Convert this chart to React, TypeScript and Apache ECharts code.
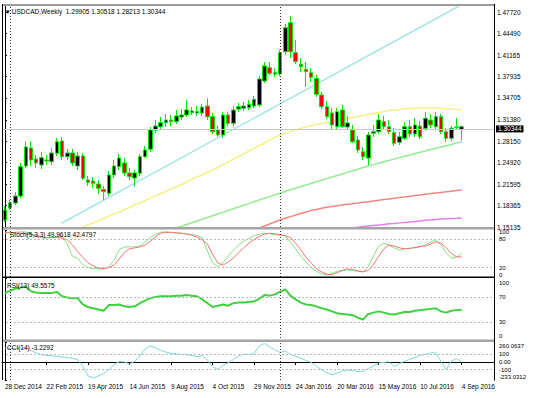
import React, { useEffect, useRef } from 'react';
import * as echarts from 'echarts';

// ---------- data ----------
const X_TICK_INDEX = [0, 8, 16, 24, 32, 40, 48, 56, 64, 72, 80, 88];
const X_TICK_LABELS = ['28 Dec 2014', '22 Feb 2015', '19 Apr 2015', '14 Jun 2015', '9 Aug 2015', '4 Oct 2015',
  '29 Nov 2015', '24 Jan 2016', '20 Mar 2016', '15 May 2016', '10 Jul 2016', '4 Sep 2016'];
const PRICE_TICKS = [1.15135, 1.18365, 1.21595, 1.2492, 1.2815, 1.3138, 1.34705, 1.37935, 1.41165, 1.4449, 1.4772];
const PRICE_MIN = 1.15135;
const PRICE_MAX = 1.48781;
const LAST_PRICE = 1.30344;
const SEPARATOR_INDEX = [1, 53];

const OPEN = [1.1620, 1.1802, 1.1877, 1.1983, 1.2438, 1.2711, 1.2544, 1.2453, 1.2529, 1.2503,
  1.2631, 1.2817, 1.2579, 1.2635, 1.2438, 1.2590, 1.2226, 1.2211, 1.2165, 1.2085,
  1.2024, 1.2302, 1.2428, 1.2484, 1.2332, 1.2256, 1.2328, 1.2579, 1.2691, 1.2984,
  1.3034, 1.3094, 1.3135, 1.3110, 1.3181, 1.3211, 1.3249, 1.3241, 1.3241, 1.3347,
  1.3185, 1.2984, 1.2908, 1.3211, 1.3085, 1.3302, 1.3313, 1.3322, 1.3347, 1.3363,
  1.3726, 1.3928, 1.3832, 1.3832, 1.4170, 1.4610, 1.4155, 1.3979, 1.3904, 1.3852,
  1.3767, 1.3514, 1.3337, 1.3241, 1.3034, 1.3287, 1.3029, 1.2984, 1.2832, 1.2655,
  1.2559, 1.2934, 1.2958, 1.3110, 1.3034, 1.2943, 1.2797, 1.2858, 1.3034, 1.2923,
  1.3044, 1.3009, 1.3135, 1.3034, 1.3185, 1.2958, 1.2858, 1.3025, 1.29905];
const HIGH = [1.1832, 1.1923, 1.2044, 1.2484, 1.2806, 1.2810, 1.2605, 1.2651, 1.2605, 1.2711,
  1.2862, 1.2878, 1.2696, 1.2696, 1.2651, 1.2635, 1.2287, 1.2272, 1.2226, 1.2135,
  1.2362, 1.2529, 1.2620, 1.2559, 1.2408, 1.2378, 1.2620, 1.2741, 1.3029, 1.3135,
  1.3181, 1.3226, 1.3211, 1.3287, 1.3302, 1.3438, 1.3332, 1.3347, 1.3378, 1.3464,
  1.3241, 1.3044, 1.3257, 1.3257, 1.3347, 1.3393, 1.3408, 1.3438, 1.3499, 1.3802,
  1.4014, 1.4014, 1.3923, 1.4196, 1.4590, 1.4712, 1.4348, 1.4075, 1.4014, 1.3923,
  1.3817, 1.3560, 1.3423, 1.3317, 1.3317, 1.3363, 1.3196, 1.3060, 1.2893, 1.2726,
  1.2953, 1.3060, 1.3226, 1.3196, 1.3135, 1.3014, 1.2953, 1.3105, 1.3135, 1.3166,
  1.3120, 1.3257, 1.3226, 1.3257, 1.3226, 1.3014, 1.3044, 1.3166, 1.30518];
const LOW = [1.1589, 1.1771, 1.1847, 1.1953, 1.2408, 1.2438, 1.2408, 1.2393, 1.2453, 1.2453,
  1.2590, 1.2529, 1.2529, 1.2438, 1.2378, 1.2226, 1.2135, 1.2105, 1.2014, 1.1923,
  1.1983, 1.2256, 1.2378, 1.2287, 1.2226, 1.2124, 1.2287, 1.2559, 1.2651, 1.2938,
  1.2984, 1.3029, 1.3044, 1.3075, 1.3135, 1.3181, 1.3211, 1.3196, 1.3196, 1.3135,
  1.2923, 1.2882, 1.2862, 1.3044, 1.3044, 1.3257, 1.3272, 1.3287, 1.3317, 1.3332,
  1.3696, 1.3817, 1.3787, 1.3802, 1.4120, 1.4075, 1.3984, 1.3863, 1.3640, 1.3711,
  1.3484, 1.3302, 1.3150, 1.2984, 1.2999, 1.3014, 1.2984, 1.2787, 1.2635, 1.2529,
  1.2453, 1.2878, 1.2923, 1.2984, 1.2923, 1.2741, 1.2756, 1.2832, 1.2878, 1.2878,
  1.2847, 1.2969, 1.3014, 1.2999, 1.2923, 1.2802, 1.2817, 1.2984, 1.28213];
const CLOSE = [1.1771, 1.1877, 1.1983, 1.2428, 1.2726, 1.2529, 1.2484, 1.2564, 1.2514, 1.2635,
  1.2806, 1.2579, 1.2635, 1.2484, 1.2590, 1.2252, 1.2191, 1.2176, 1.2100, 1.2049,
  1.2302, 1.2438, 1.2559, 1.2332, 1.2276, 1.2332, 1.2579, 1.2681, 1.2984, 1.3044,
  1.3094, 1.3135, 1.3110, 1.3196, 1.3211, 1.3287, 1.3272, 1.3264, 1.3332, 1.3185,
  1.2958, 1.2908, 1.3211, 1.3085, 1.3287, 1.3337, 1.3347, 1.3373, 1.3449, 1.3757,
  1.3954, 1.3843, 1.3852, 1.4155, 1.4534, 1.4170, 1.4019, 1.3943, 1.3867, 1.3782,
  1.3525, 1.3337, 1.3185, 1.3060, 1.3261, 1.3034, 1.3090, 1.2806, 1.2681, 1.2579,
  1.2908, 1.2958, 1.3135, 1.3034, 1.2958, 1.2782, 1.2882, 1.3034, 1.2923, 1.3060,
  1.2882, 1.3161, 1.3060, 1.3185, 1.2958, 1.2858, 1.3009, 1.3030, 1.30344];

const MA_YELLOW_START = 14;
const MA_YELLOW = [1.1483, 1.1514, 1.1544, 1.1574, 1.1605, 1.1642, 1.1680, 1.1711, 1.1741, 1.1779,
  1.1809, 1.1847, 1.1877, 1.1915, 1.1953, 1.1983, 1.2021, 1.2052, 1.2090, 1.2120,
  1.2158, 1.2196, 1.2234, 1.2272, 1.2302, 1.2340, 1.2378, 1.2415, 1.2461, 1.2499,
  1.2544, 1.2582, 1.2620, 1.2665, 1.2703, 1.2749, 1.2787, 1.2832, 1.2870, 1.2908,
  1.2938, 1.2961, 1.2984, 1.3006, 1.3029, 1.3052, 1.3067, 1.3082, 1.3097, 1.3113,
  1.3128, 1.3143, 1.3158, 1.3173, 1.3188, 1.3204, 1.3219, 1.3234, 1.3249, 1.3264,
  1.3279, 1.3287, 1.3294, 1.3302, 1.3310, 1.3313, 1.3317, 1.3317, 1.3317, 1.3317,
  1.3313, 1.3307, 1.3299, 1.3293, 1.3287];
const MA_GREEN_START = 33;
const MA_GREEN = [1.1498, 1.1524, 1.1552, 1.1577, 1.1605, 1.1630, 1.1658, 1.1683, 1.1711, 1.1736,
  1.1764, 1.1789, 1.1817, 1.1843, 1.1868, 1.1895, 1.1923, 1.1949, 1.1974, 1.2002,
  1.2026, 1.2052, 1.2077, 1.2102, 1.2126, 1.2150, 1.2174, 1.2199, 1.2223, 1.2247,
  1.2271, 1.2294, 1.2317, 1.2341, 1.2365, 1.2390, 1.2415, 1.2438, 1.2459, 1.2481,
  1.2502, 1.2523, 1.2544, 1.2565, 1.2587, 1.2605, 1.2626, 1.2646, 1.2665, 1.2687,
  1.2706, 1.2726, 1.2746, 1.2765, 1.2787, 1.2806];
const MA_RED_START = 49;
const MA_RED = [1.1498, 1.1529, 1.1559, 1.1589, 1.1620, 1.1645, 1.1671, 1.1695, 1.1718, 1.1741,
  1.1762, 1.1780, 1.1797, 1.1812, 1.1824, 1.1836, 1.1847, 1.1858, 1.1867, 1.1877,
  1.1888, 1.1897, 1.1908, 1.1918, 1.1929, 1.1938, 1.1949, 1.1959, 1.1968, 1.1979,
  1.1990, 1.1999, 1.2010, 1.2020, 1.2029, 1.2038, 1.2047, 1.2056, 1.2065, 1.2074];
const MA_MAGENTA_START = 66;
const MA_MAGENTA = [1.1491, 1.1501, 1.1510, 1.1520, 1.1529, 1.1538, 1.1545, 1.1553, 1.1561, 1.1568,
  1.1576, 1.1583, 1.1591, 1.1598, 1.1606, 1.1614, 1.1621, 1.1627, 1.1633, 1.1638,
  1.1642, 1.1645, 1.1650];
const TRENDLINE = [[10.9, 1.1570], [87.5, 1.4863]];

const STOCH_K = [93, 94, 95, 96, 96, 92, 89, 85, 83, 84, 87, 88, 70, 44, 40, 26, 20, 18, 17, 17,
  22, 35, 58, 64, 64, 64, 66, 75, 84, 91, 95, 96, 95, 94, 93, 92, 90, 88, 84, 55,
  30, 22, 30, 45, 57, 68, 76, 82, 88, 91, 93, 92, 90, 89, 88, 74, 60, 44, 32, 20,
  12, 7, 4, 8, 12, 14, 15, 14, 12, 11, 22, 45, 66, 72, 68, 62, 57, 60, 61, 62,
  64, 68, 74, 79, 68, 52, 40, 42, 49.9618];
const STOCH_D = [95, 95, 94, 93, 92, 90, 87, 85, 84, 84, 84, 83, 79, 68, 54, 42, 30, 24, 19, 18,
  20, 25, 38, 52, 60, 62, 64, 68, 76, 86, 93, 95, 95, 94, 93, 91, 89, 85, 79, 70,
  48, 30, 25, 32, 40, 52, 62, 72, 80, 86, 91, 93, 92, 90, 88, 84, 72, 58, 42, 30,
  17, 11, 6, 5, 9, 14, 17, 16, 13, 11, 14, 26, 44, 60, 68, 66, 62, 60, 61, 63,
  65, 66, 70, 75, 72, 62, 50, 43, 42.4797];
const RSI = [76, 80, 83, 85, 86, 79, 77, 76, 76, 76, 78, 71, 69, 68, 68, 58, 54, 52, 50, 48,
  57, 57, 58, 55, 54, 55, 60, 64, 68, 70, 71, 71, 71, 72, 72, 73, 72, 71, 66, 60,
  54, 56, 58, 56, 60, 61, 61, 62, 63, 67, 73, 72, 74, 78, 82, 72, 66, 61, 58, 57,
  55, 52, 50, 47, 44, 43, 42, 41, 37, 34, 43, 45, 47, 45, 43, 42, 44, 46, 46, 48,
  49, 50, 51, 52, 47, 45, 48, 49, 49.5575];
const CCI = [178, 178, 178, 178, 180, 150, 120, 95, 85, 82, 75, 65, 57, 48, 30, -55, -180, -205, -180, -150,
  -100, -30, 4, 2, -25, 10, 80, 170, 208, 185, 150, 130, 112, 105, 100, 95, 85, 70, 88, 20,
  -60, -95, -40, -10, 30, 80, 100, 100, 110, 210, 240, 195, 160, 122, 145, 100, 72, 50, 20, -5,
  -55, -100, -140, -165, -145, -115, -105, -112, -120, -122, -85, -50, -12, -5, 4, -60, -20, 10, 35, 60,
  85, 100, 118, 121, 10, -100, 10, 45, -3.2292];

const STOCH_TICKS = [0, 20, 80, 100];
const STOCH_TICK_LABELS = ['0', '20', '80', '100'];
const STOCH_LEVELS = [80, 20];
const RSI_TICKS = [0, 30, 70, 100];
const RSI_TICK_LABELS = ['0', '30', '70', '100'];
const RSI_LEVELS = [70, 30];
const CCI_TICKS = [-233.0312, -100, 0, 100, 260.0637];
const CCI_TICK_LABELS = ['-233.0312', '-100', '0.00', '100', '260.0637'];
const CCI_LEVELS = [100, -100];

const TITLE_MAIN = '\u25BE USDCAD,Weekly  1.29905 1.30518 1.28213 1.30344';
const TITLE_STOCH = 'Stoch(5,3,3) 49.9618 42.4797';
const TITLE_RSI = 'RSI(13) 49.5575';
const TITLE_CCI = 'CCI(14) -3.2292';

// ---------- layout ----------
const LEFT = 2;
const RIGHT = 494;
const X_MIN = -0.578;
const X_MAX = 94.22;
const FONT = 'Liberation Sans, Arial, sans-serif';
const FS = 6.5;
const FS_IND = 6;
// pixel shift of the bottom / top label of each indicator scale (MT4 keeps them inside the window)
const EDGE_SHIFT = { stoch: [-2, 2.3], rsi: [-5, 5], cci: [-3, 3.5] };

export default function App() {
  const ref = useRef<HTMLDivElement>(null);
  useEffect(() => {
    const chart = echarts.init(ref.current!, null, { renderer: 'svg' });
    const W = RIGHT - LEFT;
    const grids = [
      { left: LEFT, top: 5, width: W, height: 222 },
      { left: LEFT, top: 230, width: W, height: 47 },
      { left: LEFT, top: 278, width: W, height: 63 },
      { left: LEFT, top: 342, width: W, height: 38 },
    ];
    const xAxes = grids.map((_, gi) => ({
      type: 'value', gridIndex: gi, min: X_MIN, max: X_MAX,
      show: gi === 3,
      splitLine: { show: false },
      axisLine: { show: gi === 3, lineStyle: { color: '#000', width: 1 } },
      axisTick: { show: gi === 3, customValues: X_TICK_INDEX, length: 3, lineStyle: { color: '#000' } },
      axisLabel: {
        show: gi === 3, customValues: X_TICK_INDEX, align: 'left', margin: 3, hideOverlap: false,
        showMinLabel: true, showMaxLabel: true,
        fontSize: FS, fontFamily: FONT, color: '#000',
        formatter: (v: number) => X_TICK_LABELS[X_TICK_INDEX.indexOf(Math.round(v))] ?? '',
      },
    }));
    const yBase = (gi: number, min: number, max: number, ticks: number[], showLabels: boolean) => ({
      type: 'value', gridIndex: gi, position: 'right', min, max,
      splitLine: { show: false },
      axisLine: { show: true, lineStyle: { color: '#000', width: 1 } },
      axisTick: { show: true, customValues: ticks, length: 2, lineStyle: { color: '#000' } },
      axisLabel: {
        show: showLabels, customValues: ticks, margin: 3, fontSize: FS, fontFamily: FONT, color: '#000',
        formatter: (v: number) => v.toFixed(5), hideOverlap: false, showMinLabel: true, showMaxLabel: true,
      },
    });
    const yAxes = [
      yBase(0, PRICE_MIN, PRICE_MAX, PRICE_TICKS, true),
      yBase(1, 0, 100, STOCH_TICKS, false),
      yBase(2, 0, 100, RSI_TICKS, false),
      yBase(3, CCI_TICKS[0], CCI_TICKS[CCI_TICKS.length - 1], CCI_TICKS, false),
    ];
    const sepLines = SEPARATOR_INDEX.map((x) => ({
      xAxis: x, lineStyle: { color: '#333', type: [1, 2], width: 1 }, label: { show: false },
    }));
    const levelLines = (levels: number[]) => levels.map((y) => ({
      yAxis: y, lineStyle: { color: '#b8b8b8', type: [2, 2], width: 1 }, label: { show: false },
    }));
    const markLine = (data: any[]) => ({ silent: true, symbol: ['none', 'none'], animation: false, data });
    const idxSeries = (arr: number[]) => arr.map((v, i) => [i, v]);
    const maSeries = (start: number, arr: number[]) => arr.map((v, k) => [start + k, v]);
    const line = (name: string, gi: number, data: any[], color: string, width: number, extra: any = {}) => ({
      name, type: 'line', xAxisIndex: gi, yAxisIndex: gi, data, showSymbol: false, symbol: 'none',
      lineStyle: { color, width }, clip: true, z: 3, ...extra,
    });
    const titleStyle = { fontSize: FS, fontFamily: FONT, fontWeight: 'normal', color: '#000' };

    const frame: any[] = [
      { type: 'rect', z: 50, silent: true, shape: { x: LEFT, y: 4, width: W, height: 2 }, style: { fill: '#9c9c9c' } },
      { type: 'rect', z: 50, silent: true, shape: { x: LEFT, y: 227, width: W, height: 2.5 }, style: { fill: '#a4a4a4' } },
      { type: 'rect', z: 50, silent: true, shape: { x: LEFT, y: 276.5, width: W, height: 1.5 }, style: { fill: '#000' } },
      { type: 'rect', z: 50, silent: true, shape: { x: LEFT, y: 339.5, width: W, height: 2.5 }, style: { fill: '#a4a4a4' } },
      { type: 'line', z: 50, silent: true, shape: { x1: LEFT + 0.5, y1: 4, x2: LEFT + 0.5, y2: 380 }, style: { stroke: '#000', lineWidth: 1 } },
      { type: 'line', z: 50, silent: true, shape: { x1: RIGHT + 0.5, y1: 4, x2: RIGHT + 0.5, y2: 380.5 }, style: { stroke: '#000', lineWidth: 1 } },
    ];

    const option: any = {
      animation: false,
      backgroundColor: '#fff',
      title: [
        { text: TITLE_MAIN, left: 6, top: 8, padding: 0, textStyle: titleStyle },
        { text: TITLE_STOCH, left: 10, top: 231, padding: 0, textStyle: titleStyle },
        { text: TITLE_RSI, left: 7, top: 281.5, padding: 0, textStyle: titleStyle },
        { text: TITLE_CCI, left: 7, top: 343.5, padding: 0, textStyle: titleStyle },
      ],
      grid: grids,
      xAxis: xAxes,
      yAxis: yAxes,
      series: [
        line('MA slow', 0, maSeries(MA_MAGENTA_START, MA_MAGENTA), '#e67fe6', 1.5),
        line('MA red', 0, maSeries(MA_RED_START, MA_RED), '#f48484', 1.5),
        line('MA green', 0, maSeries(MA_GREEN_START, MA_GREEN), '#95ea95', 1.5),
        line('MA yellow', 0, maSeries(MA_YELLOW_START, MA_YELLOW), '#f6f08a', 1.5),
        line('Trend', 0, TRENDLINE, '#a6e6e6', 1.5, {
          markLine: markLine([
            {
              yAxis: LAST_PRICE, lineStyle: { color: '#c8c8c8', type: 'solid', width: 1 },
              label: {
                show: true, position: 'end', distance: 2, formatter: LAST_PRICE.toFixed(5),
                backgroundColor: '#000', color: '#fff', fontSize: FS, fontFamily: FONT, padding: [0, 2, 0, 2],
              },
            },
            ...sepLines,
          ]),
        }),
        {
          name: 'USDCAD', type: 'candlestick', xAxisIndex: 0, yAxisIndex: 0, barWidth: 4, z: 4,
          data: OPEN.map((o, i) => [i, o, CLOSE[i], LOW[i], HIGH[i]]),
          encode: { x: 0, y: [1, 2, 3, 4] },
          itemStyle: { color: '#000', color0: '#ff0000', borderColor: '#00e600', borderColor0: '#00e600', borderWidth: 1 },
        },
        line('Stoch main', 1, idxSeries(STOCH_K), '#84e084', 1, {
          markLine: markLine([...levelLines(STOCH_LEVELS), ...sepLines]),
        }),
        line('Stoch signal', 1, idxSeries(STOCH_D), '#f47474', 1),
        line('RSI', 2, idxSeries(RSI), '#3fd13f', 2, {
          markLine: markLine([...levelLines(RSI_LEVELS), ...sepLines]),
        }),
        line('CCI', 3, idxSeries(CCI), '#7fd8d8', 1, {
          markLine: markLine([...levelLines(CCI_LEVELS), ...sepLines]),
        }),
      ],
      graphic: frame,
    };
    chart.setOption(option);

    // indicator axis labels, placed through each axis' own scale
    const labels: any[] = [];
    const addLabels = (gi: number, ticks: number[], texts: string[], shift: number[]) => {
      ticks.forEach((t, k) => {
        const y = chart.convertToPixel({ yAxisIndex: gi } as any, t) as number;
        const dy = k === 0 ? shift[0] : k === ticks.length - 1 ? shift[1] : 0;
        labels.push({
          type: 'text', z: 60, silent: true, x: RIGHT + 5, y: y + dy,
          style: { text: texts[k], fontSize: FS_IND, fontFamily: FONT, fill: '#000', verticalAlign: 'middle', align: 'left' },
        });
      });
    };
    addLabels(1, STOCH_TICKS, STOCH_TICK_LABELS, EDGE_SHIFT.stoch);
    addLabels(2, RSI_TICKS, RSI_TICK_LABELS, EDGE_SHIFT.rsi);
    addLabels(3, CCI_TICKS, CCI_TICK_LABELS, EDGE_SHIFT.cci);
    chart.setOption({ graphic: [...frame, ...labels] });
    return () => chart.dispose();
  }, []);
  return <div ref={ref} style={{ position: 'fixed', left: 0, top: 0, width: 536, height: 398, background: '#fff' }} />;
}
